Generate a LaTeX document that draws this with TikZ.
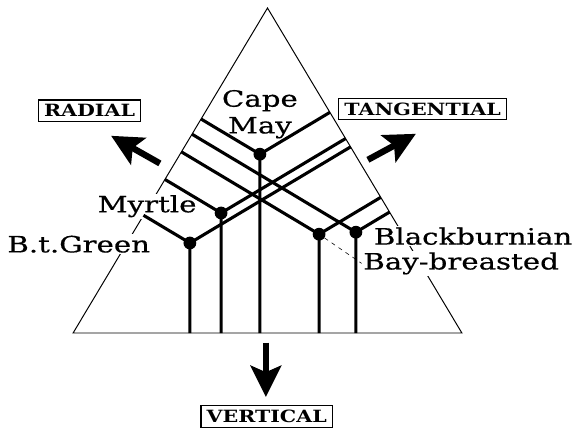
\documentclass[tikz,border=0pt]{standalone}
\usepackage{fontspec}
\setmainfont{DejaVu Serif}
\newfontfamily\handfont[FakeStretch=1.3,FakeBold=0.5]{DejaVu Serif}
\newfontfamily\capfont[FakeStretch=1.22]{DejaVu Serif Bold}
\usetikzlibrary{calc,arrows.meta}
\newcommand{\perps}[1]{\coordinate (#1-l) at ($(L)!(#1.center)!(T)$);\coordinate (#1-r) at ($(R)!(#1.center)!(T)$);\coordinate (#1-b) at ($(L)!(#1.center)!(R)$);
\draw[limb] (#1-l) -- (#1.center) -- (#1-r) (#1.center) -- (#1-b);}

\begin{document}
\begin{tikzpicture}[scale=1,
  limb/.style={line width=2.2pt,line join=round},
  dot/.style={circle,fill,inner sep=0pt,minimum size=0.32cm},
  tag/.style={font=\handfont\fontsize{16}{19}\selectfont,fill=white,inner sep=1pt},
  axisbox/.style={draw,line width=0.8pt,font=\capfont\fontsize{12}{13}\selectfont,inner xsep=4pt,inner ysep=3.2pt},
  push/.style={line width=4.5pt,-{Stealth[length=0.78cm,width=0.76cm,inset=0.16cm]}}]
\useasboundingbox (-6.6875,-2.4) rectangle (7.9125,8.325);
\coordinate (L) at (-4.86,0); \coordinate (R) at (4.86,0); \coordinate (T) at (0,8.125);
\draw[line width=0.7pt] (L) -- (R) -- (T) -- cycle;
% labels mask the sides of the triangle
\node[tag,align=center] (capemaytxt) at (-0.19,5.47) {Cape\\May};
\node[tag] (myrtletxt) at (-3.01,3.17) {Myrtle};
\node[tag] (btgreentxt) at (-4.72,2.22) {B.t.Green};
\node[tag] (blackbtxt) at (5.14,2.42) {Blackburnian};
\node[tag] (baybrtxt) at (4.84,1.74) {Bay-breasted};
% birds
\node[dot] (capemay) at (-0.19,4.47) {};
\node[dot] (myrtle) at (-1.16,3.0) {};
\node[dot] (btgreen) at (-1.94,2.25) {};
\node[dot] (baybr) at (1.29,2.47) {};
\node[dot] (blackb) at (2.21,2.52) {};
\perps{capemay}\perps{myrtle}\perps{btgreen}\perps{baybr}\perps{blackb}
\draw[dashed,thin] (baybr) -- (baybrtxt.west);
% directions
\node[axisbox] (radial) at (-4.45,5.56) {RADIAL};
\node[axisbox] (tangential) at (3.88,5.6) {TANGENTIAL};
\node[axisbox] (vertical) at (-0.02,-2.09) {VERTICAL};
\coordinate (radA) at (-2.69,4.24); \coordinate (radB) at (-3.91,4.93);
\coordinate (tanA) at (2.51,4.33); \coordinate (tanB) at (3.71,4.98);
\coordinate (verA) at (-0.04,-0.24); \coordinate (verB) at (-0.04,-1.6);
\draw[push] (radA) -- (radB); \draw[push] (tanA) -- (tanB); \draw[push] (verA) -- (verB);
\end{tikzpicture}
\end{document}
